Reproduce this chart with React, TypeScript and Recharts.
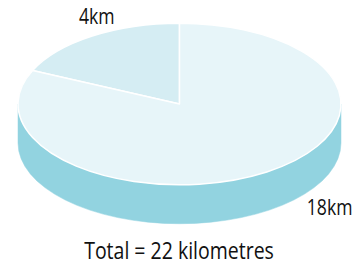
import { Cell, Pie, PieChart } from 'recharts'

const names = ['4km', '18km']
const distances = [4, 18]
const totalLabel = 'Total = 22 kilometres'

const TOP_COLORS = ['#d5edf3', '#e7f5f9']
const SIDE_COLOR = '#92d3e0'
const TEXT_COLOR = '#111111'
const TILT = 0.5
const DEPTH = 39
const FONT = '"Open Sans", sans-serif'
const CONDENSE = 0.8
// hand placed label nudges, per slice
const LABEL_OFFSETS = [
  [4.5, -12.5, 'middle'],
  [40, 4, 'start'],
]

const chartData = names.map((name, i) => ({ name, value: distances[i] }))

const rad = (a: number) => (a * Math.PI) / 180
const onRim = (cx: number, cy: number, rx: number, ry: number, a: number) => [
  cx + rx * Math.cos(rad(a)),
  cy - ry * Math.sin(rad(a)),
]

function EllipseSector(props: any) {
  const { cx, cy, outerRadius, startAngle, endAngle, fill, stroke, strokeWidth } = props
  const rx = outerRadius
  const ry = outerRadius * TILT
  const s = Math.min(startAngle, endAngle)
  const e = Math.max(startAngle, endAngle)
  const [x0, y0] = onRim(cx, cy, rx, ry, s)
  const [x1, y1] = onRim(cx, cy, rx, ry, e)
  const large = e - s > 180 ? 1 : 0
  const top = `M${cx},${cy} L${x0},${y0} A${rx},${ry} 0 ${large} 0 ${x1},${y1} Z`

  // front wall: parts of the slice that lie in the lower half (180..360)
  const walls: string[] = []
  for (let k = -1; k <= 2; k++) {
    const a = Math.max(s, 180 + 360 * k)
    const b = Math.min(e, 360 + 360 * k)
    if (b - a <= 0.01) continue
    const [ax, ay] = onRim(cx, cy, rx, ry, a)
    const [bx, by] = onRim(cx, cy, rx, ry, b)
    walls.push(
      `M${ax},${ay} A${rx},${ry} 0 0 0 ${bx},${by} L${bx},${by + DEPTH} A${rx},${ry} 0 0 1 ${ax},${ay + DEPTH} Z`,
    )
  }

  return (
    <g>
      {walls.map((d, i) => (
        <path key={i} d={d} fill={SIDE_COLOR} stroke={SIDE_COLOR} strokeWidth={0.5} />
      ))}
      <path d={top} fill={fill} stroke={stroke} strokeWidth={strokeWidth} strokeLinejoin="round" />
    </g>
  )
}

function renderLabel(props: any) {
  const { cx, cy, outerRadius, midAngle, index, name } = props
  let [x, y] = onRim(cx, cy, outerRadius, outerRadius * TILT, midAngle)
  if (Math.sin(rad(midAngle)) < 0) y += DEPTH
  const [dx, dy, anchor] = LABEL_OFFSETS[index] as [number, number, string]
  return (
    <text
      transform={`translate(${x + dx},${y + dy}) scale(${CONDENSE},1)`}
      textAnchor={anchor}
      fill={TEXT_COLOR}
      fontFamily={FONT}
      fontSize={22}
    >
      {name}
    </text>
  )
}

export default function App() {
  return (
    <div style={{ position: 'absolute', left: 0, top: 0, width: 363, height: 266, background: '#fff' }}>
      <PieChart width={363} height={266} margin={{ top: 0, right: 0, bottom: 0, left: 0 }}>
        <Pie
          data={chartData}
          dataKey="value"
          nameKey="name"
          cx={179.5}
          cy={104}
          outerRadius={161.5}
          startAngle={90}
          endAngle={450}
          stroke="#ffffff"
          strokeWidth={1.5}
          shape={EllipseSector}
          label={renderLabel}
          labelLine={false}
          isAnimationActive={false}
        >
          {chartData.map((entry, i) => (
            <Cell key={entry.name} fill={TOP_COLORS[i % TOP_COLORS.length]} />
          ))}
        </Pie>
      </PieChart>
      <svg width={363} height={266} style={{ position: 'absolute', left: 0, top: 0, pointerEvents: 'none' }}>
        <text
          transform={`translate(179,259) scale(0.83,1)`}
          textAnchor="middle"
          fill={TEXT_COLOR}
          fontFamily={FONT}
          fontSize={23.5}
        >
          {totalLabel}
        </text>
      </svg>
    </div>
  )
}
